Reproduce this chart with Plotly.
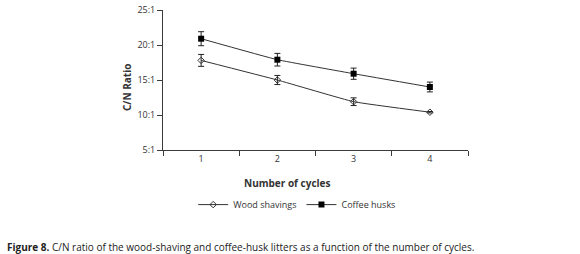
import plotly.graph_objects as go

cycles = [1, 2, 3, 4]
wood = [17.8, 15.0, 11.9, 10.4]
wood_err = [0.85, 0.65, 0.55, 0.1]
coffee = [20.9, 17.9, 15.9, 14.0]
coffee_err = [1.0, 0.9, 0.8, 0.7]
ytick_vals = [5, 10, 15, 20, 25]
ytick_text = ["5:1", "10:1", "15:1", "20:1", "25:1"]

FONT = "Open Sans"
AX = "#3a3a3a"

fig = go.Figure()
fig.add_trace(go.Scatter(
    x=cycles, y=wood, name="Wood shavings", mode="lines+markers",
    line=dict(color="#333333", width=1, shape="spline", smoothing=0.3),
    marker=dict(symbol="diamond-open", size=5, color="#333333", line=dict(width=1)),
    error_y=dict(type="data", array=wood_err, color="#222222", thickness=1, width=3),
))
fig.add_trace(go.Scatter(
    x=cycles, y=coffee, name="Coffee husks", mode="lines+markers",
    line=dict(color="#333333", width=1, shape="spline", smoothing=0.3),
    marker=dict(symbol="square", size=6, color="#000000"),
    error_y=dict(type="data", array=coffee_err, color="#222222", thickness=1, width=3),
))

fig.update_layout(
    width=580, height=254,
    margin=dict(l=163, r=112, t=10, b=104, autoexpand=False),
    paper_bgcolor="white", plot_bgcolor="white",
    font=dict(family=FONT, size=9, color="#333333"),
    showlegend=True,
    legend=dict(orientation="h", x=0.44, xanchor="center", y=-0.39, yanchor="middle",
                font=dict(size=9, color="#333333"), itemwidth=30, tracegroupgap=0,
                bgcolor="rgba(0,0,0,0)"),
    xaxis=dict(range=[0.5, 4.5], tickvals=cycles, ticktext=[str(c) for c in cycles],
               ticks="", showgrid=False, zeroline=False, showline=True,
               linecolor=AX, linewidth=1, tickfont=dict(size=9),
               minor=dict(tickvals=[0.5, 1.5, 2.5, 3.5, 4.5], ticks="outside",
                          ticklen=5, tickcolor=AX, tickwidth=1, showgrid=False)),
    yaxis=dict(range=[5, 25], tickvals=ytick_vals, ticktext=ytick_text,
               ticks="outside", ticklen=5, tickcolor=AX, tickwidth=1,
               showgrid=False, zeroline=False, showline=True, linecolor=AX, linewidth=1,
               tickfont=dict(size=9), ticklabeloverflow="allow"),
)

fig.add_annotation(text="<b>C/N Ratio</b>", xref="paper", yref="paper",
                   x=(127 - 163) / 305, y=(150 - 88) / 140, textangle=-90,
                   showarrow=False, font=dict(size=10, color="#333333"),
                   xanchor="center", yanchor="middle")
fig.add_annotation(text="<b>Number of cycles</b>", xref="paper", yref="paper",
                   x=(287 - 163) / 305, y=(150 - 183) / 140,
                   showarrow=False, font=dict(size=10, color="#333333"),
                   xanchor="center", yanchor="middle")
fig.add_annotation(text="<b>Figure 8.</b> C/N ratio of the wood-shaving and coffee-husk litters as a function of the number of cycles.",
                   xref="paper", yref="paper",
                   x=(5 - 163) / 305, y=(150 - 247) / 140,
                   showarrow=False, font=dict(size=10, color="#222222"),
                   xanchor="left", yanchor="middle")

fig.write_html("out.html", config={"displayModeBar": False},
               post_script="document.body.style.margin='0';")
